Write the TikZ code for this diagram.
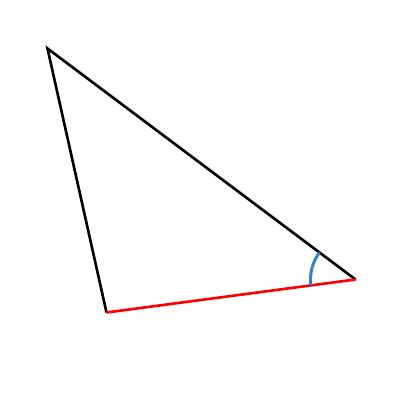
\documentclass[tikz,border=0pt]{standalone}
\usepackage{tikz}
\definecolor{angblue}{RGB}{55,125,200}
\begin{document}
\begin{tikzpicture}[line width=1.5pt]
\tikzstyle{side}=[black]
\tikzstyle{base}=[red]
\tikzstyle{angmark}=[angblue, line width=1.7pt]
\useasboundingbox (0,0) rectangle (8,8);
\coordinate (vA) at (0.95,7.03);
\coordinate (vB) at (2.13,1.75);
\coordinate (vC) at (7.11,2.41);
\draw[side] (vB) -- (vA) -- (vC);
\draw[base] (vB) -- (vC);
\draw[angmark] (vC) ++(143.1:0.9) arc (143.1:187.5:0.9);
\end{tikzpicture}
\end{document}
